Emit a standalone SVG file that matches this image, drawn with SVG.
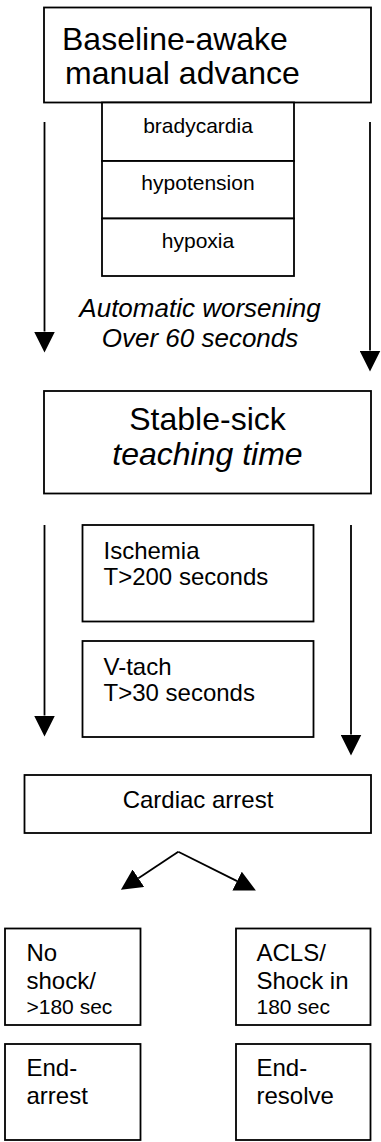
<svg xmlns="http://www.w3.org/2000/svg" width="381" height="1142" viewBox="0 0 381 1142">
<style>
.box{fill:#fff;stroke:#000;stroke-width:1.8}
.t{font-family:"Liberation Sans",Arial,sans-serif;fill:#000}
.c{text-anchor:middle}
.it{font-style:italic}
.ln{stroke:#000;stroke-width:1.8;fill:none}
</style>
<defs>
<marker id="ah" markerUnits="userSpaceOnUse" markerWidth="21" markerHeight="21" refX="0" refY="10.5" orient="auto" viewBox="0 0 21 21">
<path d="M0,0 L21,10.5 L0,21 z" fill="#000"/>
</marker>
</defs>
<rect width="381" height="1142" fill="#fff"/>
<g id="baseline">
<rect class="box" x="44" y="7.5" width="327" height="95"/>
<text class="t" x="62" y="49.5" font-size="32">Baseline-awake</text>
<text class="t" x="65" y="83.5" font-size="32">manual advance</text>
</g>
<g id="bradycardia">
<rect class="box" x="102" y="102.5" width="192" height="58.5"/>
<text class="t c" x="198" y="133" font-size="21">bradycardia</text>
</g>
<g id="hypotension">
<rect class="box" x="102" y="161" width="192" height="57.5"/>
<text class="t c" x="198" y="190" font-size="21">hypotension</text>
</g>
<g id="hypoxia">
<rect class="box" x="102" y="218.5" width="192" height="57.5"/>
<text class="t c" x="198" y="248" font-size="21">hypoxia</text>
</g>
<g id="worsening-label">
<text class="t c it" x="200" y="317" font-size="26">Automatic worsening</text>
<text class="t c it" x="200" y="347" font-size="26">Over 60 seconds</text>
</g>
<g id="stable-sick">
<rect class="box" x="44" y="391" width="327" height="102.5"/>
<text class="t c" x="207.5" y="430" font-size="32">Stable-sick</text>
<text class="t c it" x="207.5" y="465" font-size="32">teaching time</text>
</g>
<g id="ischemia">
<rect class="box" x="82.5" y="525" width="231" height="96.5"/>
<text class="t" x="103.5" y="559" font-size="24">Ischemia</text>
<text class="t" x="103.5" y="585" font-size="24">T&gt;200 seconds</text>
</g>
<g id="vtach">
<rect class="box" x="82.5" y="641" width="231" height="96"/>
<text class="t" x="103.5" y="674.5" font-size="24">V-tach</text>
<text class="t" x="103.5" y="701" font-size="24">T&gt;30 seconds</text>
</g>
<g id="cardiac-arrest">
<rect class="box" x="24.5" y="775" width="346.5" height="58"/>
<text class="t c" x="198" y="808" font-size="24">Cardiac arrest</text>
</g>
<g id="no-shock">
<rect class="box" x="5" y="928.5" width="135.5" height="96.5"/>
<text class="t" x="26.5" y="961" font-size="24">No</text>
<text class="t" x="26.5" y="989" font-size="24">shock/</text>
<text class="t" x="26.5" y="1013.5" font-size="21">&gt;180 sec</text>
</g>
<g id="acls">
<rect class="box" x="236" y="928.5" width="134.5" height="96.5"/>
<text class="t" x="256.5" y="961" font-size="24">ACLS/</text>
<text class="t" x="256.5" y="989" font-size="24">Shock in</text>
<text class="t" x="256.5" y="1013.5" font-size="21">180 sec</text>
</g>
<g id="end-arrest">
<rect class="box" x="5" y="1044" width="135.5" height="96"/>
<text class="t" x="26.5" y="1076" font-size="24">End-</text>
<text class="t" x="26.5" y="1104" font-size="24">arrest</text>
</g>
<g id="end-resolve">
<rect class="box" x="236" y="1044" width="134.5" height="96"/>
<text class="t" x="256.5" y="1076" font-size="24">End-</text>
<text class="t" x="256.5" y="1104" font-size="24">resolve</text>
</g>
<g id="connectors">
<line class="ln" x1="44.5" y1="122" x2="44.5" y2="331.5" marker-end="url(#ah)"/>
<line class="ln" x1="370" y1="122" x2="370" y2="350.5" marker-end="url(#ah)"/>
<line class="ln" x1="44.5" y1="525" x2="44.5" y2="715.5" marker-end="url(#ah)"/>
<line class="ln" x1="351" y1="525" x2="351" y2="734.5" marker-end="url(#ah)"/>
<line class="ln" x1="178.3" y1="851.7" x2="138.4" y2="878.2" marker-end="url(#ah)"/>
<line class="ln" x1="178.3" y1="851.7" x2="237.1" y2="881.1" marker-end="url(#ah)"/>
</g>
</svg>
